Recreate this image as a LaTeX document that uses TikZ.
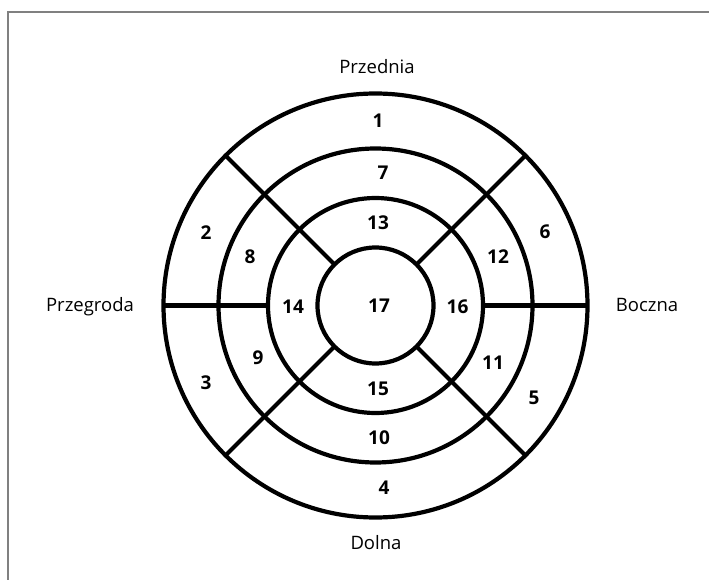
\documentclass[tikz,border=0pt]{standalone}
\usepackage{fontspec}
\setmainfont{Open Sans}
\definecolor{framegray}{HTML}{808080}
\tikzset{
  ring/.style={line width=4.2pt, draw=black},
  framebox/.style={line width=2pt, draw=framegray},
  num/.style={font=\fontsize{19}{22}\selectfont\bfseries, inner sep=0pt, text height=13.4pt, text depth=0pt, anchor=center},
  lab/.style={font=\fontsize{18.5}{22}\selectfont, inner sep=0pt, text height=13.2pt, text depth=0pt, anchor=center}
}
\begin{document}
\begin{tikzpicture}[x=1pt,y=-1pt]
\useasboundingbox (0,0) rectangle (709,580);
\draw[framebox] (8.3,581) -- (8.3,11.7) -- (710,11.7);
\coordinate (C) at (375.5,305.5);
% rings
\foreach \r in {58,107.5,157,212}{
  \draw[ring] (C) circle[radius=\r pt];
}
% diagonal dividers
\foreach \a in {45,135,225,315}{
  \draw[ring] (C) ++(\a:58pt) -- ++(\a:154pt);
}
% horizontal dividers
\draw[ring] (C) ++(0:107.5pt) -- ++(0:104.5pt);
\draw[ring] (C) ++(180:107.5pt) -- ++(180:104.5pt);
% segment numbers
\node[num] (n1) at (378,121) {1};
\node[num] (n2) at (206,233) {2};
\node[num] (n3) at (206,383) {3};
\node[num] (n4) at (384,488) {4};
\node[num] (n5) at (534,398) {5};
\node[num] (n6) at (545,232) {6};
\node[num] (n7) at (383,173) {7};
\node[num] (n8) at (250,257) {8};
\node[num] (n9) at (258,358) {9};
\node[num] (n10) at (379,438) {10};
\node[num] (n11) at (493,363) {11};
\node[num] (n12) at (498,257) {12};
\node[num] (n13) at (378,223) {13};
\node[num] (n14) at (293,306.5) {14};
\node[num] (n15) at (378,389) {15};
\node[num] (n16) at (457.5,306.5) {16};
\node[num] (n17) at (379,306) {17};
% wall labels
\node[lab] (ant) at (377,67) {Przednia};
\node[lab] (sep) at (90,305) {Przegroda};
\node[lab] (lat) at (647,305) {Boczna};
\node[lab] (inf) at (376,543) {Dolna};
\end{tikzpicture}
\end{document}
